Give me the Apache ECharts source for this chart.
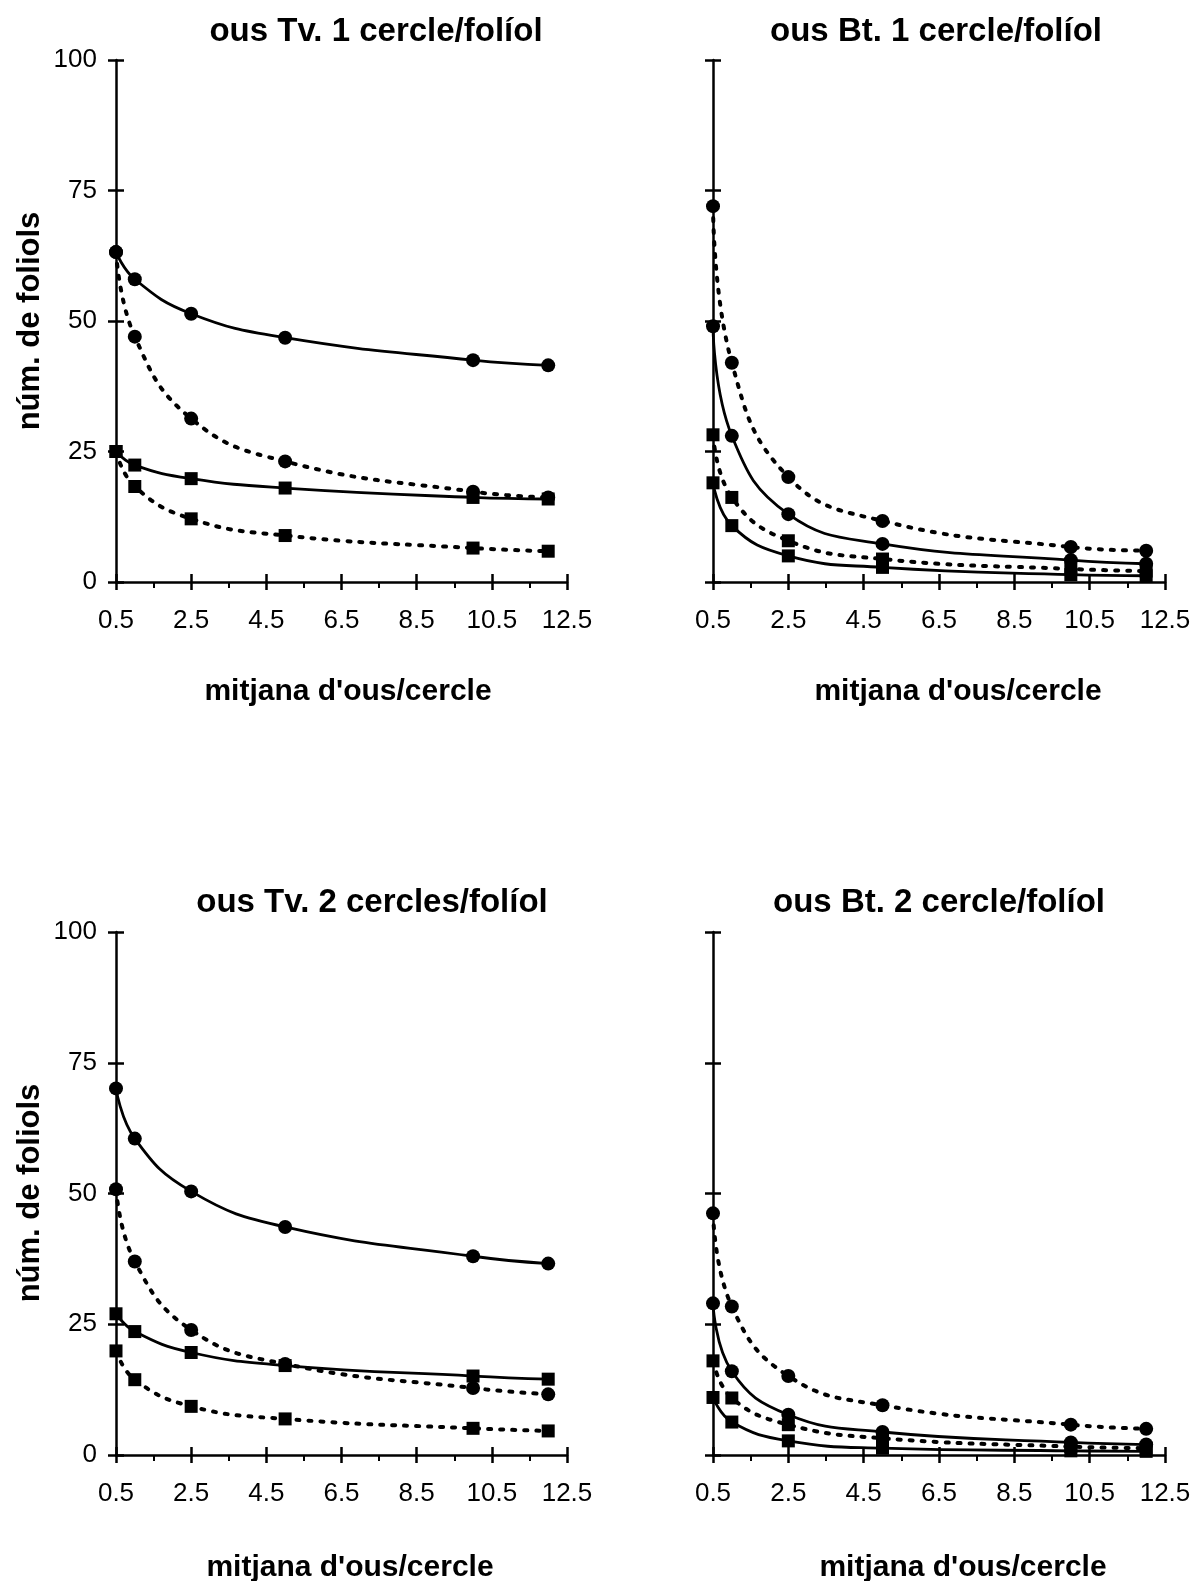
<!DOCTYPE html>
<html>
<head>
<meta charset="utf-8">
<script src="https://cdn.jsdelivr.net/npm/echarts@6/dist/echarts.min.js"></script>
<style>
html,body{margin:0;padding:0;background:#fff;}
#c{width:1197px;height:1581px;}
</style>
</head>
<body>
<div id="c"></div>
<script>
// ---- data ----
const xValues = [0.5, 1, 2.5, 5, 10, 12];
const xTicks = [0.5, 2.5, 4.5, 6.5, 8.5, 10.5, 12.5];
const yTicks = [0, 25, 50, 75, 100];

const panelTitles = ['ous Tv. 1 cercle/folíol', 'ous Bt. 1 cercle/folíol', 'ous Tv. 2 cercles/folíol', 'ous Bt. 2 cercle/folíol'];
const xName = "mitjana d'ous/cercle";
const yName = 'núm. de foliols';

// panel 1: ous Tv. 1 cercle/folíol
const tv1SolidCircle  = [63.2, 58.0, 51.4, 46.8, 42.5, 41.5];
const tv1DottedCircle = [63.2, 47.0, 31.3, 23.1, 17.3, 16.2];
const tv1SolidSquare  = [25.0, 22.4, 19.8, 18.0, 16.2, 15.9];
const tv1DottedSquare = [25.0, 18.3, 12.1, 8.9, 6.5, 5.9];

// panel 2: ous Bt. 1 cercle/folíol
const bt1SolidCircle  = [49.0, 28.0, 13.0, 7.3, 4.2, 3.5];
const bt1DottedCircle = [72.0, 42.0, 20.1, 11.7, 6.7, 6.0];
const bt1SolidSquare  = [19.0, 10.8, 5.0, 2.8, 1.4, 1.2];
const bt1DottedSquare = [28.2, 16.2, 7.9, 4.4, 2.5, 2.1];

// panel 3: ous Tv. 2 cercles/folíol
const tv2SolidCircle  = [70.1, 60.5, 50.4, 43.6, 38.0, 36.6];
const tv2DottedCircle = [50.8, 37.0, 23.9, 17.4, 12.8, 11.6];
const tv2SolidSquare  = [27.0, 23.6, 19.6, 17.1, 15.1, 14.5];
const tv2DottedSquare = [19.9, 14.4, 9.3, 6.9, 5.1, 4.6];

// panel 4: ous Bt. 2 cercle/folíol
const bt2SolidCircle  = [29.0, 16.0, 7.7, 4.4, 2.4, 2.0];
const bt2DottedCircle = [46.2, 28.4, 15.1, 9.5, 5.8, 5.0];
const bt2SolidSquare  = [11.0, 6.3, 2.7, 1.3, 0.8, 0.7];
const bt2DottedSquare = [18.0, 10.9, 5.8, 3.2, 1.6, 1.3];

const panelSeries = [
  [tv1SolidCircle, tv1DottedCircle, tv1SolidSquare, tv1DottedSquare],
  [bt1SolidCircle, bt1DottedCircle, bt1SolidSquare, bt1DottedSquare],
  [tv2SolidCircle, tv2DottedCircle, tv2SolidSquare, tv2DottedSquare],
  [bt2SolidCircle, bt2DottedCircle, bt2SolidSquare, bt2DottedSquare]
];

// ---- layout ----
const FONT = '"Liberation Sans", Arial, sans-serif';
const grids = [
  {left: 116, top: 60, width: 451, height: 522},
  {left: 713, top: 60, width: 452, height: 522},
  {left: 116, top: 932, width: 451, height: 523},
  {left: 713, top: 932, width: 452, height: 523}
];
const titlePos = [[376, 32], [936, 32], [372, 903], [939, 903]];
const xNamePos = [[348, 692], [958, 692], [350, 1568], [963, 1568]];
const yNamePos = [[30, 321], [30, 1193]];

const xAxes = [], yAxes = [], series = [];
grids.forEach((g, i) => {
  xAxes.push({
    gridIndex: i, type: 'value', position: 'bottom', min: xTicks[0], max: xTicks[xTicks.length - 1], interval: 2,
    axisLine: {show: true, onZero: false, lineStyle: {color: '#000', width: 2.5}},
    axisTick: {show: true, inside: false, length: 8, lineStyle: {color: '#000', width: 2.5}},
    minorTick: {show: true, splitNumber: 2, length: 6, lineStyle: {color: '#000', width: 2}},
    splitLine: {show: false}, minorSplitLine: {show: false},
    axisLabel: {show: true, color: '#000', fontSize: 26, fontFamily: FONT, margin: 26,
      formatter: v => xTicks.includes(v) ? String(v) : ''}
  });
  xAxes.push({
    gridIndex: i, type: 'value', position: 'bottom', min: xTicks[0], max: xTicks[xTicks.length - 1], interval: 2,
    axisLine: {show: false, onZero: false},
    axisTick: {show: true, inside: true, length: 8, lineStyle: {color: '#000', width: 2.5}},
    splitLine: {show: false}, axisLabel: {show: false}
  });
  const labels = (i % 2 === 0);
  yAxes.push({
    gridIndex: i, type: 'value', position: 'left', min: yTicks[0], max: yTicks[yTicks.length - 1], interval: 25,
    axisLine: {show: true, onZero: false, lineStyle: {color: '#000', width: 2.5}},
    axisTick: {show: true, inside: false, length: 8, lineStyle: {color: '#000', width: 2.5}},
    splitLine: {show: false},
    axisLabel: {show: labels, color: '#000', fontSize: 26, fontFamily: FONT, margin: 19}
  });
  yAxes.push({
    gridIndex: i, type: 'value', position: 'left', min: yTicks[0], max: yTicks[yTicks.length - 1], interval: 25,
    axisLine: {show: false, onZero: false},
    axisTick: {show: true, inside: true, length: 8, lineStyle: {color: '#000', width: 2.5}},
    splitLine: {show: false}, axisLabel: {show: false}
  });
  const styles = [
    {symbol: 'circle', dotted: false},
    {symbol: 'circle', dotted: true},
    {symbol: 'rect', dotted: false},
    {symbol: 'rect', dotted: true}
  ];
  panelSeries[i].forEach((arr, k) => {
    const st = styles[k];
    series.push({
      type: 'line', xAxisIndex: 2 * i, yAxisIndex: 2 * i,
      data: xValues.map((x, j) => [x, arr[j]]),
      symbol: st.symbol, symbolSize: st.symbol === 'circle' ? 14 : 13,
      smooth: 0.45, showSymbol: true, clip: false,
      itemStyle: {color: '#000', borderWidth: 0},
      lineStyle: {color: '#000', width: st.dotted ? 4 : 2.8, type: st.dotted ? [3, 9] : 'solid', cap: st.dotted ? 'round' : 'butt'},
      emphasis: {disabled: true},
      z: st.dotted ? 3 : 4
    });
  });
});

const graphic = [];
titlePos.forEach((p, i) => graphic.push({
  type: 'text', x: p[0], y: p[1],
  style: {text: panelTitles[i], fill: '#000', fontSize: 33, fontWeight: 'bold', fontFamily: FONT, align: 'center', verticalAlign: 'middle'}
}));
xNamePos.forEach(p => graphic.push({
  type: 'text', x: p[0], y: p[1],
  style: {text: xName, fill: '#000', fontSize: 30, fontWeight: 'bold', fontFamily: FONT, align: 'center', verticalAlign: 'middle'}
}));
yNamePos.forEach(p => graphic.push({
  type: 'text', x: p[0], y: p[1], rotation: Math.PI / 2,
  style: {text: yName, fill: '#000', fontSize: 31, fontWeight: 'bold', fontFamily: FONT, align: 'center', verticalAlign: 'middle'}
}));

const chart = echarts.init(document.getElementById('c'), null, {renderer: 'canvas'});
chart.setOption({
  animation: false,
  backgroundColor: '#fff',
  grid: grids,
  xAxis: xAxes,
  yAxis: yAxes,
  series: series,
  graphic: graphic
});
</script>
</body>
</html>
